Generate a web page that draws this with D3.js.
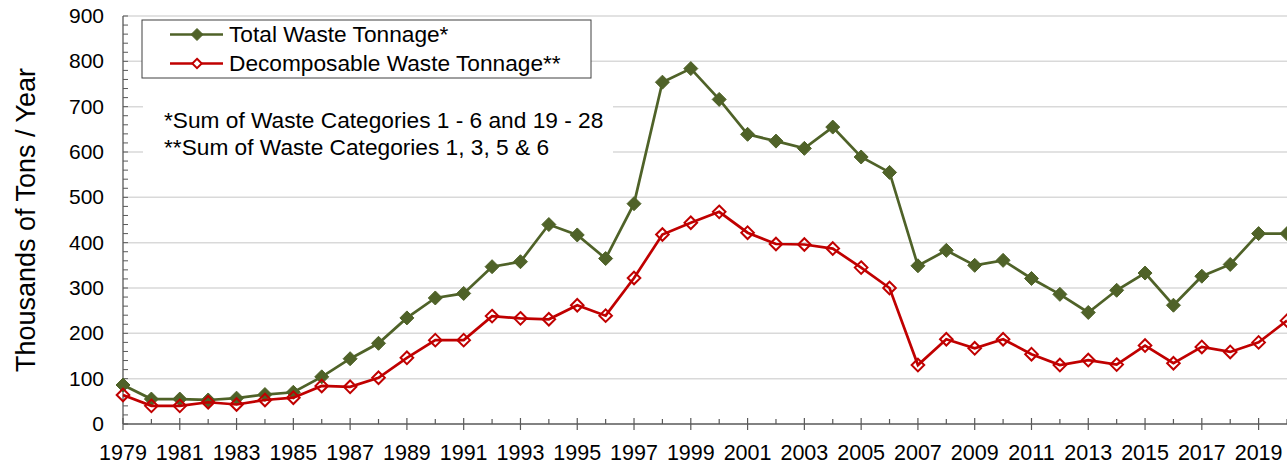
<!DOCTYPE html>
<html>
<head>
<meta charset="utf-8">
<script src="https://cdn.jsdelivr.net/npm/d3@7"></script>
<style>
  body { margin: 0; background: #fff; }
  svg { display: block; font-family: "Liberation Sans", Arial, sans-serif; }
</style>
</head>
<body>
<div id="chart"></div>
<script>
// years on the x axis
var years = d3.range(1979, 2021);

// thousands of tons per year
var totalWaste = [86, 55, 55, 53, 57, 65, 70, 104, 144, 178,
    234, 278, 288, 347, 358, 440, 417, 365, 486, 754,
    784, 716, 639, 624, 608, 655, 589, 555, 349, 383,
    350, 361, 321, 286, 246, 295, 333, 262, 326, 352,
    420, 420];
var decompWaste = [64, 40, 40, 48, 43, 53, 58, 84, 82, 102,
    146, 185, 185, 238, 233, 231, 262, 239, 322, 418,
    444, 468, 422, 397, 396, 387, 345, 300, 130, 187,
    167, 187, 154, 130, 141, 131, 173, 134, 170, 159,
    180, 228];

var yTicks = d3.range(0, 901, 100);
var legendLabels = ["Total Waste Tonnage*", "Decomposable Waste Tonnage**"];
var notes = ["*Sum of Waste Categories 1 - 6 and 19 - 28", "**Sum of Waste Categories 1, 3, 5 & 6"];

var width = 1287, height = 465;
var margin = {top: 16, right: 0, bottom: 41, left: 123};

var svg = d3.select("#chart").append("svg")
    .attr("width", width)
    .attr("height", height);

var x = d3.scaleLinear()
    .domain([1979, 2020])
    .range([margin.left, width - margin.right]);
var y = d3.scaleLinear()
    .domain([0, 900])
    .range([height - margin.bottom, margin.top]);

// square diamond path
function diamondPath(r) {
    return "M0," + (-r) + "L" + r + ",0L0," + r + "L" + (-r) + ",0Z";
}

// gridlines
svg.append("g")
    .selectAll("line")
    .data(yTicks.filter(function(d) { return d > 0; }))
    .enter().append("line")
    .attr("x1", margin.left)
    .attr("x2", width)
    .attr("y1", function(d) { return y(d); })
    .attr("y2", function(d) { return y(d); })
    .attr("stroke", "#d9d9d9")
    .attr("stroke-width", 1.5);

// y axis: minor ticks every 20 inside, labels at 100s
var yAxis = svg.append("g").attr("transform", "translate(" + margin.left + ",0)");
yAxis.append("line")
    .attr("x1", 0).attr("x2", 0)
    .attr("y1", y(900)).attr("y2", y(0))
    .attr("stroke", "#595959").attr("stroke-width", 1.3);
yAxis.selectAll(".minor")
    .data(d3.range(0, 901, 20))
    .enter().append("line")
    .attr("x1", 0).attr("x2", 5)
    .attr("y1", function(d) { return y(d); })
    .attr("y2", function(d) { return y(d); })
    .attr("stroke", "#595959").attr("stroke-width", 1);
yAxis.selectAll("text")
    .data(yTicks)
    .enter().append("text")
    .attr("x", -19)
    .attr("y", function(d) { return y(d) + 7; })
    .attr("text-anchor", "end")
    .attr("font-size", 21)
    .attr("fill", "#000")
    .text(function(d) { return d; });

// x axis
var xAxis = svg.append("g");
xAxis.append("line")
    .attr("x1", margin.left).attr("x2", width)
    .attr("y1", y(0)).attr("y2", y(0))
    .attr("stroke", "#595959").attr("stroke-width", 1.3);
xAxis.selectAll(".tick")
    .data(years)
    .enter().append("line")
    .attr("x1", function(d) { return x(d); })
    .attr("x2", function(d) { return x(d); })
    .attr("y1", function(d) { return (d % 2 === 1) ? y(0) - 6 : y(0) - 5; })
    .attr("y2", function(d) { return (d % 2 === 1) ? y(0) + 6 : y(0); })
    .attr("stroke", "#595959").attr("stroke-width", 1.2);
xAxis.selectAll("text")
    .data(years.filter(function(d) { return d % 2 === 1; }))
    .enter().append("text")
    .attr("x", function(d) { return x(d); })
    .attr("y", 460)
    .attr("text-anchor", "middle")
    .attr("font-size", 21.5)
    .attr("fill", "#000")
    .text(function(d) { return d; });

// y axis title
svg.append("text")
    .attr("transform", "translate(35," + ((y(0) + y(900)) / 2) + ") rotate(-90)")
    .attr("text-anchor", "middle")
    .attr("font-size", 27)
    .attr("fill", "#000")
    .text("Thousands of Tons / Year");

// notes box (white, hides the gridlines behind it)
svg.append("rect")
    .attr("x", 143).attr("y", 96)
    .attr("width", 470).attr("height", 70)
    .attr("fill", "#fff");
svg.selectAll(".note")
    .data(notes)
    .enter().append("text")
    .attr("class", "note")
    .attr("x", 164)
    .attr("y", function(d, i) { return 127.5 + i * 27; })
    .attr("font-size", 22.7)
    .attr("fill", "#000")
    .text(function(d) { return d; });

// series
var series = [
    {values: totalWaste, color: "#4f6228", filled: true},
    {values: decompWaste, color: "#c00000", filled: false}
];

var line = d3.line()
    .x(function(d, i) { return x(years[i]); })
    .y(function(d) { return y(d); });

series.forEach(function(s) {
    var g = svg.append("g");
    g.append("path")
        .datum(s.values)
        .attr("d", line)
        .attr("fill", "none")
        .attr("stroke", s.color)
        .attr("stroke-width", 2.7);
    g.selectAll("path.pt")
        .data(s.values)
        .enter().append("path")
        .attr("class", "pt")
        .attr("transform", function(d, i) { return "translate(" + x(years[i]) + "," + y(d) + ")"; })
        .attr("d", diamondPath(s.filled ? 7 : 6.3))
        .attr("fill", s.filled ? s.color : "none")
        .attr("stroke", s.color)
        .attr("stroke-width", s.filled ? 1 : 2);
});

// legend
var legend = svg.append("g");
legend.append("rect")
    .attr("x", 142).attr("y", 20)
    .attr("width", 449).attr("height", 58)
    .attr("fill", "#fff")
    .attr("stroke", "#404040")
    .attr("stroke-width", 1);
series.forEach(function(s, i) {
    var ly = 34.5 + i * 29;
    legend.append("line")
        .attr("x1", 170).attr("x2", 223)
        .attr("y1", ly).attr("y2", ly)
        .attr("stroke", s.color).attr("stroke-width", 2.7);
    legend.append("path")
        .attr("transform", "translate(197," + ly + ")")
        .attr("d", diamondPath(s.filled ? 6 : 4.7))
        .attr("fill", s.filled ? s.color : "#fff")
        .attr("stroke", s.color)
        .attr("stroke-width", s.filled ? 1 : 2);
    legend.append("text")
        .attr("x", 229)
        .attr("y", ly + 7.5)
        .attr("font-size", 22.7)
        .attr("fill", "#000")
        .text(legendLabels[i]);
});
</script>
</body>
</html>
